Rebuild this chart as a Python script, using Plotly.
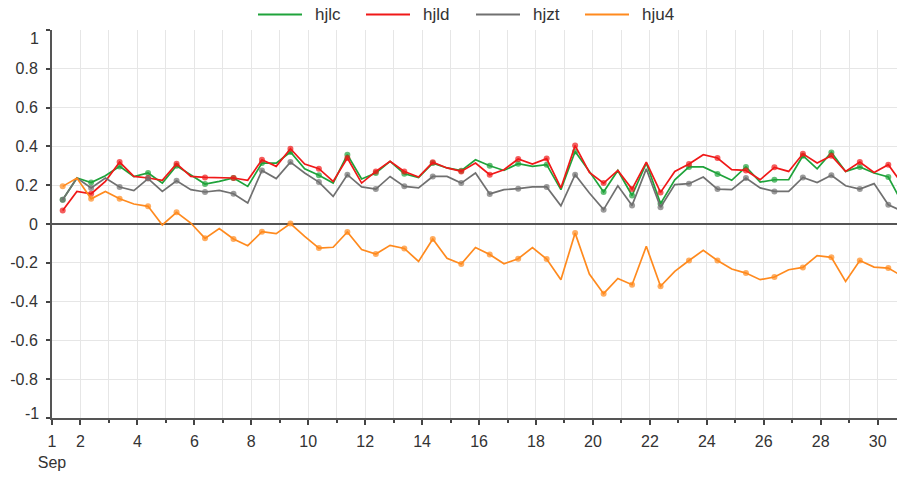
import pandas as pd
import plotly.graph_objects as go

# Twice-daily samples, 09:00 and 21:00, through September
timestamps = pd.date_range("2023-09-01 09:00", periods=60, freq="12h")

hjlc = [0.125, 0.237, 0.214, 0.249, 0.297, 0.245, 0.263, 0.211, 0.300, 0.254,
        0.206, 0.220, 0.237, 0.194, 0.314, 0.314, 0.371, 0.285, 0.251, 0.211,
        0.357, 0.232, 0.263, 0.323, 0.259, 0.240, 0.314, 0.289, 0.275, 0.331,
        0.300, 0.276, 0.311, 0.297, 0.306, 0.177, 0.374, 0.271, 0.165, 0.276,
        0.147, 0.314, 0.105, 0.228, 0.294, 0.294, 0.258, 0.225, 0.294, 0.216,
        0.228, 0.228, 0.352, 0.284, 0.369, 0.271, 0.294, 0.263, 0.242, 0.106]

hjld = [0.069, 0.168, 0.156, 0.220, 0.319, 0.245, 0.237, 0.225, 0.311, 0.245,
        0.240, 0.237, 0.237, 0.225, 0.331, 0.297, 0.388, 0.309, 0.285, 0.220,
        0.340, 0.211, 0.271, 0.323, 0.271, 0.242, 0.318, 0.289, 0.271, 0.314,
        0.254, 0.280, 0.335, 0.309, 0.337, 0.186, 0.404, 0.266, 0.211, 0.276,
        0.180, 0.319, 0.163, 0.271, 0.309, 0.357, 0.340, 0.280, 0.276, 0.228,
        0.292, 0.271, 0.362, 0.314, 0.352, 0.271, 0.319, 0.266, 0.306, 0.204]

hjzt = [0.125, 0.237, 0.186, 0.237, 0.191, 0.172, 0.234, 0.168, 0.223, 0.177,
        0.165, 0.173, 0.156, 0.108, 0.276, 0.234, 0.319, 0.263, 0.216, 0.142,
        0.254, 0.191, 0.180, 0.245, 0.194, 0.186, 0.245, 0.245, 0.211, 0.263,
        0.155, 0.177, 0.182, 0.191, 0.191, 0.094, 0.254, 0.160, 0.074, 0.197,
        0.096, 0.284, 0.086, 0.203, 0.208, 0.242, 0.180, 0.177, 0.237, 0.186,
        0.168, 0.168, 0.240, 0.214, 0.251, 0.197, 0.180, 0.208, 0.099, 0.066]

hju4 = [0.194, 0.237, 0.130, 0.168, 0.130, 0.103, 0.091, -0.005, 0.060, 0.005,
        -0.074, -0.024, -0.077, -0.112, -0.040, -0.050, 0.002, -0.064, -0.124, -0.120,
        -0.041, -0.132, -0.155, -0.110, -0.126, -0.193, -0.077, -0.177, -0.206, -0.121,
        -0.157, -0.205, -0.179, -0.121, -0.181, -0.287, -0.047, -0.258, -0.359, -0.281,
        -0.313, -0.115, -0.321, -0.244, -0.188, -0.136, -0.188, -0.232, -0.253, -0.287,
        -0.273, -0.236, -0.224, -0.163, -0.172, -0.296, -0.188, -0.222, -0.227, -0.270]

series_names = ["hjlc", "hjld", "hjzt", "hju4"]
series_values = [hjlc, hjld, hjzt, hju4]
series_colors = ["#1fa33b", "#f01818", "#707070", "#ff8a1e"]

y_tick_values = [1, 0.8, 0.6, 0.4, 0.2, 0, -0.2, -0.4, -0.6, -0.8, -1]
y_tick_labels = ["1", "0.8", "0.6", "0.4", "0.2", "0", "-0.2", "-0.4", "-0.6", "-0.8", "-1"]

x_tick_days = [1, 2, 4, 6, 8, 10, 12, 14, 16, 18, 20, 22, 24, 26, 28, 30]
x_tick_labels = ["1<br>Sep"] + [str(d) for d in x_tick_days[1:]]

# Dots only on the morning samples
marker_sizes = [6 if i % 2 == 0 else 0 for i in range(len(timestamps))]

fig = go.Figure()
for name, values, color in zip(series_names, series_values, series_colors):
    fig.add_trace(go.Scatter(
        x=timestamps, y=values, name=name, mode="lines+markers",
        line=dict(color=color, width=1.7),
        marker=dict(color=color, size=marker_sizes, line=dict(width=0)),
        showlegend=False,
    ))

# Legend row above the plot: a swatch line followed by the series name
plot_left, plot_width, plot_bottom, plot_height = 52, 845, 418, 388
legend_row_y = (plot_bottom - 14.5) / plot_height
swatch_starts = [258, 366, 476, 585]
swatch_len = 44
for name, color, start in zip(series_names, series_colors, swatch_starts):
    x0 = (start - plot_left) / plot_width
    x1 = (start + swatch_len - plot_left) / plot_width
    fig.add_shape(type="line", xref="paper", yref="paper",
                  x0=x0, x1=x1, y0=legend_row_y, y1=legend_row_y,
                  line=dict(color=color, width=2))
    fig.add_annotation(xref="paper", yref="paper", x=(start + swatch_len + 11 - plot_left) / plot_width,
                       y=legend_row_y, text=name, showarrow=False,
                       xanchor="left", yanchor="middle",
                       font=dict(size=17, color="#333333"))

# The end labels of the value axis sit just inside the plot edges
inner_labels = [(y_tick_labels[0], y_tick_values[0], -8), (y_tick_labels[-1], y_tick_values[-1], 5)]
axis_tick_text = [""] + y_tick_labels[1:-1] + [""]
for text, value, shift in inner_labels:
    fig.add_annotation(xref="paper", yref="y", x=0, y=value, yshift=shift,
                       xshift=-11, text=text, showarrow=False,
                       xanchor="right", yanchor="middle",
                       font=dict(size=16, color="#333333"))

tick_dates = [pd.Timestamp(2023, 9, d) for d in x_tick_days]

fig.update_layout(
    width=897, height=477,
    margin=dict(l=52, r=0, t=30, b=59),
    paper_bgcolor="white", plot_bgcolor="white",
    font=dict(family="Liberation Sans, Arial, sans-serif", size=16, color="#333333"),
    showlegend=False,
    xaxis=dict(
        range=[pd.Timestamp("2023-09-01 00:00"), pd.Timestamp("2023-09-30 16:20")],
        tickmode="array", tickvals=tick_dates, ticktext=x_tick_labels,
        ticks="outside", ticklen=5, tickwidth=1.5, tickcolor="#444444",
        ticklabelstandoff=3,
        showgrid=True, gridcolor="#e6e6e6", gridwidth=1,
        showline=True, linecolor="#555555", linewidth=2,
        minor=dict(dtick=86400000, tick0="2023-09-01", ticks="outside", ticklen=3,
                   tickwidth=1.5, tickcolor="#444444", showgrid=True,
                   gridcolor="#e6e6e6", gridwidth=1),
        zeroline=False, tickfont=dict(size=16, color="#333333"),
    ),
    yaxis=dict(
        range=[-1, 1], tickmode="array", tickvals=y_tick_values, ticktext=axis_tick_text,
        ticks="outside", ticklen=4, tickwidth=1.5, tickcolor="#444444",
        ticklabelstandoff=5,
        showgrid=True, gridcolor="#e6e6e6", gridwidth=1,
        showline=True, linecolor="#555555", linewidth=2,
        zeroline=True, zerolinecolor="#555555", zerolinewidth=2,
        tickfont=dict(size=16, color="#333333"),
    ),
)

fig.write_html("out.html")
